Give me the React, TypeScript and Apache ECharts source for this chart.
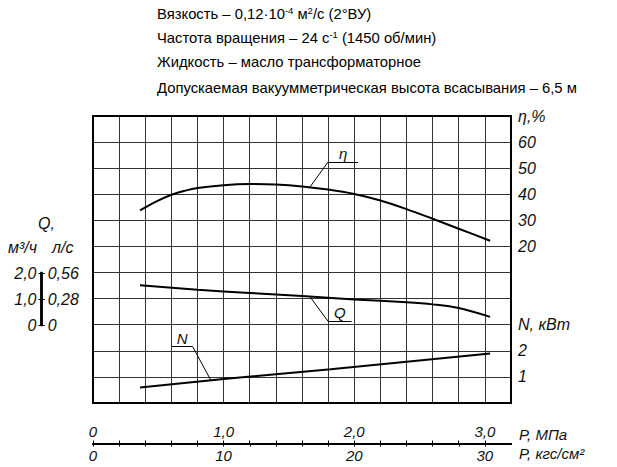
import React, { useEffect, useRef } from 'react';
import * as echarts from 'echarts';

// pressure, MPa
const etaPressure = [0.36, 0.475, 0.6, 0.7, 0.8, 1.0, 1.2, 1.4, 1.6, 1.8, 2.0, 2.2, 2.4, 2.6, 2.8, 3.04];
const etaValues = [33.8, 37.0, 39.8, 41.3, 42.4, 43.5, 43.9, 43.7, 43.0, 41.8, 40.1, 37.6, 34.3, 30.6, 26.8, 22.2];

const flowPressure = [0.36, 0.8, 1.2, 1.6, 2.0, 2.4, 2.6, 2.8, 3.04];
const flowValues = [1.51, 1.34, 1.22, 1.1, 0.97, 0.86, 0.78, 0.64, 0.3];

const powerPressure = [0.36, 1.0, 1.82, 3.04];
const powerValues = [0.59, 0.92, 1.29, 1.9];

const etaTickLabels = [20, 30, 40, 50, 60];
const powerTickLabels = [1, 2];

// leader lines: point on curve, elbow, end of underline
const etaCallout = [[1.66, 42.7], [1.8, 52.4], [2.03, 52.4]];
const flowCallout = [[1.66, 1.08], [1.8, 0.13], [1.98, 0.13]];
const powerCallout = [[0.9, 0.89], [0.763, 2.16], [0.603, 2.16]];

const headerLines = [
    '{t|Вязкость – 0,12·10}{s|-4}{t| м}{s|2}{t|/с (2°ВУ)}',
    '{t|Частота вращения – 24 с}{s|-1}{t| (1450 об/мин)}',
    '{t|Жидкость – масло трансформаторное}',
    '{t|Допускаемая вакуумметрическая высота всасывания – 6,5 м}',
];

const gost = "'Liberation Sans', Arial, sans-serif";
const plain = "'Liberation Sans', Arial, sans-serif";

const labelStyle = {
    fontFamily: gost,
    fontStyle: 'italic' as const,
    fontSize: 15,
    color: '#111',
};

const comma = (v: number, digits: number) => (v === 0 ? '0' : v.toFixed(digits).replace('.', ','));
const near = (a: number, b: number) => Math.abs(a - b) < 1e-6;

function callout(pts: number[][], text: string) {
    const lbl = { show: true, formatter: text, position: 'insideMiddleTop', distance: 1, ...labelStyle };
    return {
        silent: true,
        animation: false,
        symbol: ['none', 'none'],
        lineStyle: { color: '#000', width: 1, type: 'solid' },
        label: { show: false },
        data: [
            [{ coord: pts[0] }, { coord: pts[1] }],
            pts[2][0] > pts[1][0]
                ? [{ coord: pts[1], label: lbl }, { coord: pts[2] }]
                : [{ coord: pts[2], label: lbl }, { coord: pts[1] }],
        ],
    };
}

const PumpChart: React.FC = () => {
    const chartRef = useRef<HTMLDivElement>(null);

    useEffect(() => {
        const chartDom = chartRef.current!;
        const myChart = echarts.init(chartDom, null, { renderer: 'svg' });

        const curveLine = { color: '#000', width: 2 };
        const gridLine = { color: '#333', width: 1 };

        const option: any = {
            animation: false,
            backgroundColor: '#fff',
            grid: [
                { left: 93, top: 116, width: 418, height: 287, show: true, borderColor: '#000', borderWidth: 2, z: 3 },
                { left: 41.5, top: 273, width: 0.2, height: 52 },
                { left: 93, top: 442.5, width: 418, height: 1 },
            ],
            xAxis: [
                {
                    type: 'value', gridIndex: 0, min: 0, max: 3.2, interval: 0.2,
                    axisLine: { show: false }, axisTick: { show: false }, axisLabel: { show: false },
                    splitLine: { show: true, lineStyle: gridLine },
                },
                { type: 'value', gridIndex: 1, show: false, min: 0, max: 1 },
                {
                    type: 'value', gridIndex: 2, position: 'top', min: 0, max: 3.2, interval: 0.2,
                    axisLine: { show: true, lineStyle: { color: '#000', width: 2 } },
                    axisTick: { show: true, length: 3, lineStyle: { color: '#000', width: 1 } },
                    splitLine: { show: false },
                    axisLabel: {
                        ...labelStyle, margin: 4, showMaxLabel: false,
                        formatter: (v: number) => (near(v, Math.round(v)) ? comma(Math.round(v), 1) : ''),
                    },
                    name: 'P, МПа', nameLocation: 'end', nameGap: 8,
                    nameTextStyle: { ...labelStyle, verticalAlign: 'bottom', padding: [0, 0, 2, 0] },
                },
                {
                    type: 'value', gridIndex: 2, position: 'bottom', min: 0, max: 32, interval: 2,
                    axisLine: { show: true, lineStyle: { color: '#000', width: 2 } },
                    axisTick: { show: true, length: 3, lineStyle: { color: '#000', width: 1 } },
                    splitLine: { show: false },
                    axisLabel: {
                        ...labelStyle, margin: 4, showMaxLabel: false,
                        formatter: (v: number) => (v % 10 === 0 ? String(v) : ''),
                    },
                    name: 'P, кгс/см²', nameLocation: 'end', nameGap: 8,
                    nameTextStyle: { ...labelStyle, verticalAlign: 'top', padding: [2, 0, 0, 0] },
                },
            ],
            yAxis: [
                {
                    type: 'value', gridIndex: 0, position: 'right', min: -40, max: 70, interval: 10,
                    axisLine: { show: false }, axisTick: { show: false },
                    splitLine: { show: true, lineStyle: gridLine },
                    axisLabel: {
                        ...labelStyle, fontSize: 16, margin: 7,
                        formatter: (v: number) => (v === 70 ? 'η,%' : etaTickLabels.includes(v) ? String(v) : ''),
                    },
                },
                {
                    type: 'value', gridIndex: 0, position: 'right', min: 0, max: 11, interval: 1,
                    axisLine: { show: false }, axisTick: { show: false }, splitLine: { show: false },
                    axisLabel: {
                        ...labelStyle, fontSize: 16, margin: 7,
                        formatter: (v: number) => (v === 3 ? 'N, кВт' : powerTickLabels.includes(v) ? String(v) : ''),
                    },
                },
                { type: 'value', gridIndex: 0, position: 'left', min: -3, max: 8, interval: 1, show: false },
                {
                    type: 'value', gridIndex: 1, position: 'left', min: 0, max: 2, interval: 1,
                    axisLine: { show: true, lineStyle: { color: '#000', width: 2.5 } },
                    axisTick: { show: true, length: 3, lineStyle: { color: '#000', width: 1 } },
                    splitLine: { show: false },
                    axisLabel: { ...labelStyle, fontSize: 16, margin: 5, formatter: (v: number) => comma(v, 1) },
                },
                {
                    type: 'value', gridIndex: 1, position: 'right', min: 0, max: 0.56, interval: 0.28,
                    axisLine: { show: true, lineStyle: { color: '#000', width: 2.5 } },
                    axisTick: { show: true, length: 3, lineStyle: { color: '#000', width: 1 } },
                    splitLine: { show: false },
                    axisLabel: { ...labelStyle, fontSize: 16, margin: 6, formatter: (v: number) => comma(v, 2) },
                },
                { type: 'value', gridIndex: 2, show: false, min: 0, max: 1 },
            ],
            graphic: [
                ...headerLines.map((t, i) => ({
                    type: 'text',
                    left: 157,
                    top: [5, 29, 54, 80][i],
                    style: {
                        text: t,
                        rich: {
                            t: { fontFamily: plain, fontSize: 14.8, lineHeight: 17, color: '#111' },
                            s: { fontFamily: plain, fontSize: 9.5, color: '#111', verticalAlign: 'top' },
                        },
                    },
                })),
                { type: 'text', left: 38, top: 215, style: { text: 'Q,', ...labelStyle, fill: '#111', fontSize: 16 } },
                { type: 'text', left: 8, top: 239, style: { text: 'м³/ч', ...labelStyle, fill: '#111', fontSize: 16 } },
                { type: 'text', left: 52, top: 239, style: { text: 'л/с', ...labelStyle, fill: '#111', fontSize: 16 } },
            ],
            series: [
                {
                    name: 'η', type: 'line', xAxisIndex: 0, yAxisIndex: 0, smooth: 0.35, showSymbol: false,
                    lineStyle: curveLine, z: 4,
                    data: etaPressure.map((p, i) => [p, etaValues[i]]),
                    markLine: callout(etaCallout, 'η'),
                },
                {
                    name: 'Q', type: 'line', xAxisIndex: 0, yAxisIndex: 2, smooth: 0.35, showSymbol: false,
                    lineStyle: curveLine, z: 4,
                    data: flowPressure.map((p, i) => [p, flowValues[i]]),
                    markLine: callout(flowCallout, 'Q'),
                },
                {
                    name: 'N', type: 'line', xAxisIndex: 0, yAxisIndex: 1, showSymbol: false,
                    lineStyle: curveLine, z: 4,
                    data: powerPressure.map((p, i) => [p, powerValues[i]]),
                    markLine: callout(powerCallout, 'N'),
                },
            ],
        };

        myChart.setOption(option);

        return () => {
            myChart.dispose();
        };
    }, []);

    return (
        <div
            ref={chartRef}
            style={{ position: 'fixed', left: 0, top: 0, width: 617, height: 467, background: '#fff' }}
        />
    );
};

export default function App() {
    return <PumpChart />;
}
